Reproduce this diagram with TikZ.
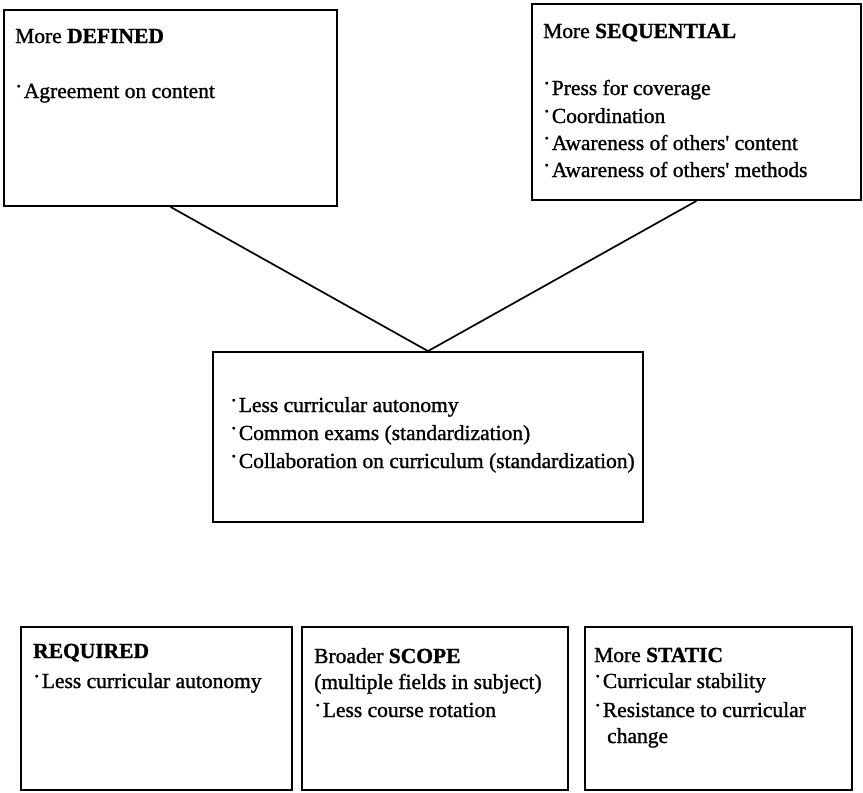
\documentclass[tikz,border=0pt]{standalone}
\usepackage{fontspec}
\setmainfont{Liberation Serif}[Ligatures=TeXOff,FakeBold=1.2]
\usetikzlibrary{fit}
\newcommand\itemdot{\raisebox{0.22em}{·}\hspace{1.5pt}}
\begin{document}
\begin{tikzpicture}[x=1pt,y=-1pt,
  box/.style={draw=black,line width=1.8pt,inner sep=0pt},
  txt/.style={anchor=base west,inner sep=0pt,font=\fontsize{21.5}{26}\selectfont},
  link/.style={draw=black,line width=1.7pt}]
\useasboundingbox[fill=white] (0,0) rectangle (863,793);
% boxes
\node[box,fit={(4,10) (337,206)}] (tl) {};
\node[box,fit={(532,4) (861,200)}] (tr) {};
\node[box,fit={(213,352) (643,522)}] (mid) {};
\node[box,fit={(21,627) (292,790)}] (b1) {};
\node[box,fit={(302,627) (568,790)}] (b2) {};
\node[box,fit={(585,627) (852,790)}] (b3) {};
% connectors
\draw[link] (tl.south) -- (mid.north);
\draw[link] (tr.south) -- (mid.north);
% texts: top left
\node[txt] (tlh) at (15,43) {More \textbf{DEFINED}};
\node[txt] (tl1) at (15,98) {\itemdot Agreement on content};
% top right
\node[txt] (trh) at (543,38) {More \textbf{SEQUENTIAL}};
\node[txt] (tr1) at (543,95) {\itemdot Press for coverage};
\node[txt] (tr2) at (543,123) {\itemdot Coordination};
\node[txt] (tr3) at (543,150) {\itemdot Awareness of others' content};
\node[txt] (tr4) at (543,177) {\itemdot Awareness of others' methods};
% middle
\node[txt] (m1) at (230,412) {\itemdot Less curricular autonomy};
\node[txt] (m2) at (230,440) {\itemdot Common exams (standardization)};
\node[txt] (m3) at (230,468) {\itemdot Collaboration on curriculum (standardization)};
% bottom
\node[txt] (b1h) at (33,658) {\textbf{REQUIRED}};
\node[txt] (b11) at (33,688) {\itemdot Less curricular autonomy};
\node[txt] (b2h) at (314,663) {Broader \textbf{SCOPE}};
\node[txt] (b21) at (314,689) {(multiple fields in subject)};
\node[txt] (b22) at (314,717) {\itemdot Less course rotation};
\node[txt] (b3h) at (594,662) {More \textbf{STATIC}};
\node[txt] (b31) at (594,688) {\itemdot Curricular stability};
\node[txt] (b32) at (594,717) {\itemdot Resistance to curricular};
\node[txt] (b33) at (607,743) {change};
\end{tikzpicture}
\end{document}
